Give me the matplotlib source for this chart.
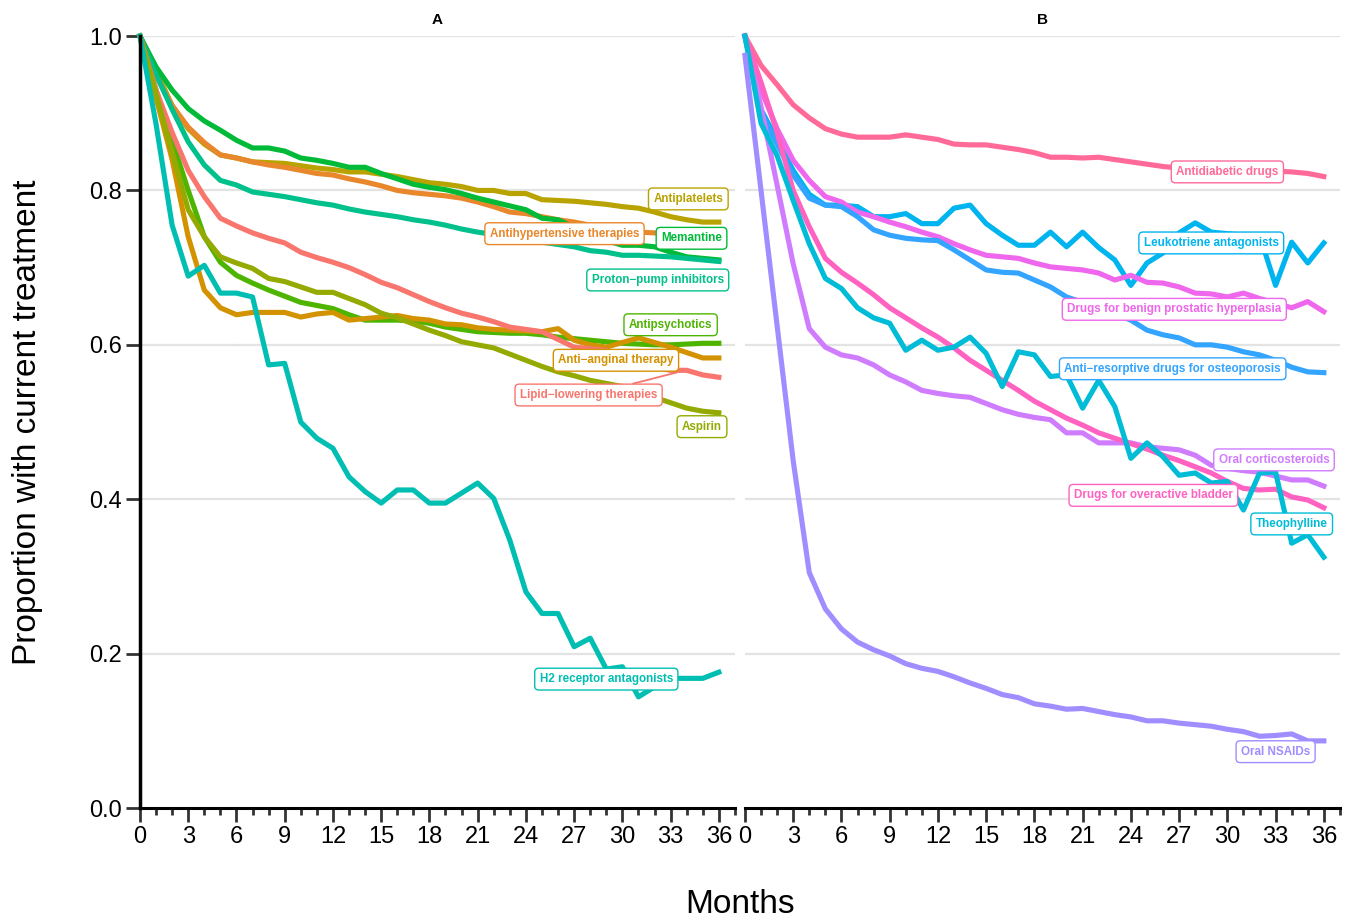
import matplotlib
matplotlib.use("Agg")
import matplotlib.pyplot as plt
from matplotlib.ticker import MultipleLocator

plt.rcParams['font.family'] = ['Liberation Sans', 'DejaVu Sans']

months = list(range(37))

# panel A
antiplatelets = [1.0, 0.955, 0.91, 0.88, 0.86, 0.846, 0.842, 0.837, 0.836, 0.835, 0.832, 0.829, 0.827,
                 0.824, 0.824, 0.821, 0.818, 0.814, 0.81, 0.808, 0.805, 0.80, 0.80, 0.796, 0.796, 0.788,
                 0.787, 0.786, 0.784, 0.782, 0.779, 0.777, 0.772, 0.766, 0.762, 0.759, 0.759]
antihypertensive = [1.0, 0.95, 0.91, 0.882, 0.862, 0.846, 0.842, 0.837, 0.833, 0.830, 0.826, 0.822, 0.82,
                    0.815, 0.811, 0.806, 0.80, 0.797, 0.795, 0.793, 0.79, 0.785, 0.779, 0.772, 0.77, 0.766,
                    0.762, 0.759, 0.755, 0.752, 0.75, 0.746, 0.745, 0.744, 0.743, 0.742, 0.742]
memantine = [1.0, 0.96, 0.93, 0.906, 0.89, 0.878, 0.865, 0.855, 0.855, 0.851, 0.842, 0.839, 0.835, 0.83,
             0.83, 0.822, 0.815, 0.808, 0.804, 0.801, 0.796, 0.79, 0.785, 0.78, 0.775, 0.764, 0.762, 0.752,
             0.742, 0.735, 0.729, 0.729, 0.727, 0.72, 0.714, 0.712, 0.71]
ppi = [1.0, 0.95, 0.905, 0.863, 0.833, 0.813, 0.807, 0.798, 0.795, 0.792, 0.788, 0.784, 0.781, 0.776,
       0.772, 0.769, 0.766, 0.762, 0.759, 0.755, 0.75, 0.746, 0.743, 0.74, 0.736, 0.733, 0.73, 0.727,
       0.722, 0.72, 0.716, 0.716, 0.715, 0.714, 0.712, 0.71, 0.708]
antipsychotics = [1.0, 0.93, 0.865, 0.80, 0.74, 0.707, 0.69, 0.68, 0.671, 0.663, 0.655, 0.651, 0.647,
                  0.639, 0.632, 0.632, 0.632, 0.631, 0.628, 0.623, 0.62, 0.617, 0.616, 0.615, 0.615,
                  0.613, 0.61, 0.608, 0.606, 0.604, 0.602, 0.601, 0.60, 0.60, 0.601, 0.602, 0.602]
anti_anginal = [1.0, 0.92, 0.84, 0.74, 0.671, 0.648, 0.639, 0.642, 0.642, 0.642, 0.636, 0.64, 0.642,
                0.632, 0.634, 0.636, 0.638, 0.634, 0.632, 0.627, 0.626, 0.622, 0.62, 0.619, 0.618, 0.617,
                0.621, 0.606, 0.60, 0.597, 0.603, 0.609, 0.603, 0.597, 0.59, 0.583, 0.583]
lipid = [1.0, 0.93, 0.875, 0.826, 0.792, 0.764, 0.754, 0.745, 0.738, 0.732, 0.72, 0.713, 0.707, 0.70,
         0.691, 0.681, 0.674, 0.665, 0.656, 0.648, 0.641, 0.636, 0.63, 0.623, 0.62, 0.617, 0.607, 0.597,
         0.595, 0.593, 0.586, 0.578, 0.571, 0.567, 0.567, 0.561, 0.558]
aspirin = [1.0, 0.925, 0.85, 0.775, 0.74, 0.714, 0.706, 0.699, 0.686, 0.682, 0.675, 0.668, 0.668, 0.66,
           0.652, 0.641, 0.635, 0.627, 0.619, 0.612, 0.604, 0.60, 0.596, 0.588, 0.58, 0.572, 0.565, 0.56,
           0.554, 0.55, 0.546, 0.54, 0.532, 0.525, 0.518, 0.514, 0.512]
h2 = [1.0, 0.886, 0.755, 0.689, 0.703, 0.667, 0.667, 0.662, 0.574, 0.576, 0.50, 0.479, 0.466, 0.429,
      0.41, 0.395, 0.412, 0.412, 0.395, 0.395, 0.408, 0.421, 0.401, 0.347, 0.28, 0.252, 0.252, 0.209,
      0.22, 0.18, 0.183, 0.144, 0.157, 0.168, 0.168, 0.168, 0.176]

# panel B
antidiabetic = [1.0, 0.962, 0.937, 0.911, 0.894, 0.88, 0.873, 0.869, 0.869, 0.869, 0.872, 0.869, 0.866,
                0.86, 0.859, 0.859, 0.856, 0.853, 0.849, 0.843, 0.843, 0.842, 0.843, 0.84, 0.837, 0.834,
                0.831, 0.829, 0.828, 0.827, 0.826, 0.826, 0.825, 0.825, 0.824, 0.822, 0.818]
leukotriene = [1.0, 0.905, 0.865, 0.826, 0.795, 0.781, 0.781, 0.779, 0.766, 0.766, 0.77, 0.757, 0.757,
               0.777, 0.781, 0.757, 0.742, 0.729, 0.729, 0.746, 0.727, 0.746, 0.726, 0.71, 0.677, 0.706,
               0.719, 0.745, 0.758, 0.746, 0.744, 0.742, 0.742, 0.677, 0.733, 0.706, 0.732]
antiresorptive = [1.0, 0.90, 0.86, 0.82, 0.79, 0.781, 0.779, 0.766, 0.749, 0.742, 0.738, 0.736, 0.735,
                  0.723, 0.71, 0.697, 0.694, 0.693, 0.684, 0.675, 0.662, 0.655, 0.648, 0.64, 0.632, 0.619,
                  0.613, 0.609, 0.60, 0.60, 0.597, 0.591, 0.587, 0.58, 0.571, 0.565, 0.564]
bph = [1.0, 0.93, 0.88, 0.839, 0.813, 0.792, 0.785, 0.772, 0.766, 0.759, 0.753, 0.746, 0.74, 0.731, 0.723,
       0.716, 0.714, 0.712, 0.706, 0.701, 0.699, 0.697, 0.693, 0.684, 0.69, 0.681, 0.68, 0.675, 0.667,
       0.666, 0.662, 0.667, 0.66, 0.654, 0.648, 0.656, 0.643]
theophylline = [1.0, 0.887, 0.845, 0.787, 0.731, 0.686, 0.673, 0.648, 0.635, 0.628, 0.593, 0.606, 0.593,
                0.597, 0.61, 0.589, 0.546, 0.591, 0.587, 0.559, 0.561, 0.518, 0.554, 0.52, 0.453, 0.473,
                0.455, 0.431, 0.434, 0.421, 0.423, 0.386, 0.434, 0.435, 0.343, 0.354, 0.325]
bladder = [1.0, 0.94, 0.875, 0.80, 0.753, 0.712, 0.694, 0.68, 0.665, 0.648, 0.635, 0.622, 0.61, 0.596,
           0.58, 0.567, 0.554, 0.541, 0.527, 0.516, 0.505, 0.496, 0.486, 0.479, 0.472, 0.465, 0.457, 0.45,
           0.442, 0.434, 0.423, 0.414, 0.412, 0.413, 0.403, 0.399, 0.389]
corticosteroids = [1.0, 0.908, 0.807, 0.705, 0.621, 0.597, 0.587, 0.583, 0.574, 0.561, 0.552, 0.541,
                   0.537, 0.534, 0.532, 0.524, 0.516, 0.51, 0.506, 0.503, 0.486, 0.486, 0.473, 0.473,
                   0.473, 0.468, 0.466, 0.464, 0.457, 0.444, 0.44, 0.437, 0.435, 0.43, 0.425, 0.425, 0.417]
nsaids = [0.975, 0.80, 0.625, 0.45, 0.305, 0.258, 0.232, 0.215, 0.205, 0.197, 0.187, 0.181, 0.177, 0.17,
          0.162, 0.155, 0.147, 0.143, 0.135, 0.132, 0.128, 0.129, 0.125, 0.121, 0.118, 0.113, 0.113, 0.11,
          0.108, 0.106, 0.102, 0.099, 0.093, 0.094, 0.096, 0.087, 0.087]

# (name, values, colour, label x, label y)
panel_a = [
    ("Antiplatelets", antiplatelets, "#B8A300", 34.1, 0.789),
    ("Antihypertensive therapies", antihypertensive, "#E8872B", 26.4, 0.744),
    ("Memantine", memantine, "#00BA38", 34.3, 0.738),
    ("Proton\u2212pump inhibitors", ppi, "#00C08B", 32.2, 0.684),
    ("Antipsychotics", antipsychotics, "#4DB400", 33.0, 0.626),
    ("Anti\u2212anginal therapy", anti_anginal, "#D39200", 29.6, 0.580),
    ("Lipid\u2212lowering therapies", lipid, "#F8766D", 27.9, 0.535),
    ("Aspirin", aspirin, "#94AA00", 34.95, 0.494),
    ("H2 receptor antagonists", h2, "#00BFB2", 29.0, 0.167),
]
panel_b = [
    ("Antidiabetic drugs", antidiabetic, "#FF6A98", 30.0, 0.824),
    ("Leukotriene antagonists", leukotriene, "#00B4EF", 29.0, 0.732),
    ("Drugs for benign prostatic hyperplasia", bph, "#EE67EC", 26.7, 0.646),
    ("Anti\u2212resorptive drugs for osteoporosis", antiresorptive, "#33A4FF", 26.6, 0.569),
    ("Oral corticosteroids", corticosteroids, "#D07CFF", 32.9, 0.451),
    ("Drugs for overactive bladder", bladder, "#FF62C1", 25.4, 0.405),
    ("Theophylline", theophylline, "#00BCD6", 34.0, 0.368),
    ("Oral NSAIDs", nsaids, "#A08DFF", 33.0, 0.073),
]

fig = plt.figure(figsize=(13.51, 9.24), dpi=100)
ax_a = fig.add_axes([0.1036, 0.1255, 0.4404, 0.8355])
ax_b = fig.add_axes([0.5514, 0.1255, 0.4404, 0.8355])

box = dict(boxstyle="round,pad=0.42,rounding_size=0.35", fc="white", lw=1)

for ax, series, title in [(ax_a, panel_a, "A"), (ax_b, panel_b, "B")]:
    ax.set_xlim(0, 37)
    ax.set_ylim(0, 1)
    for y in [0.2, 0.4, 0.6, 0.8, 1.0]:
        ax.axhline(y, color="#E3E3E3", lw=1.6, zorder=0)
    for name, vals, col, lx, ly in series:
        ax.plot(months, vals, color=col, lw=3.7, clip_on=False, zorder=2)
    for name, vals, col, lx, ly in series:
        if name.startswith("Lipid"):
            ax.annotate(name, xy=(33.9, 0.567), xytext=(lx, ly), ha="center", va="center",
                        fontsize=8.4, fontweight="bold", color=col, zorder=5,
                        arrowprops=dict(arrowstyle="-", color=col, lw=1.3, shrinkA=0, shrinkB=0),
                        bbox=dict(box, ec=col))
        else:
            ax.text(lx, ly, name, ha="center", va="center", fontsize=8.4, fontweight="bold",
                    color=col, zorder=5, bbox=dict(box, ec=col))
    ax.set_title(title, fontsize=11, fontweight="bold", pad=9)
    ax.xaxis.set_major_locator(MultipleLocator(3))
    ax.xaxis.set_minor_locator(MultipleLocator(1))
    ax.set_xticks(range(0, 37, 3))
    ax.tick_params(axis="x", which="major", length=10, width=2, color="#333333", labelsize=17, pad=3)
    ax.tick_params(axis="x", which="minor", length=5, width=2, color="#333333")
    for s in ["top", "right"]:
        ax.spines[s].set_visible(False)
    ax.spines["bottom"].set_linewidth(2.2)

ax_a.set_yticks([0.0, 0.2, 0.4, 0.6, 0.8, 1.0])
ax_a.set_yticklabels(["0.0", "0.2", "0.4", "0.6", "0.8", "1.0"])
ax_a.tick_params(axis="y", length=10, width=2, color="#333333", labelsize=17, pad=3)
ax_a.spines["left"].set_linewidth(2.5)
ax_a.set_ylabel("Proportion with current treatment", fontsize=24, labelpad=33)

ax_b.spines["left"].set_visible(False)
ax_b.set_yticks([])

fig.text(0.548, 0.004, "Months", fontsize=24, ha="center", va="bottom")

fig.savefig("out.png", dpi=100)
